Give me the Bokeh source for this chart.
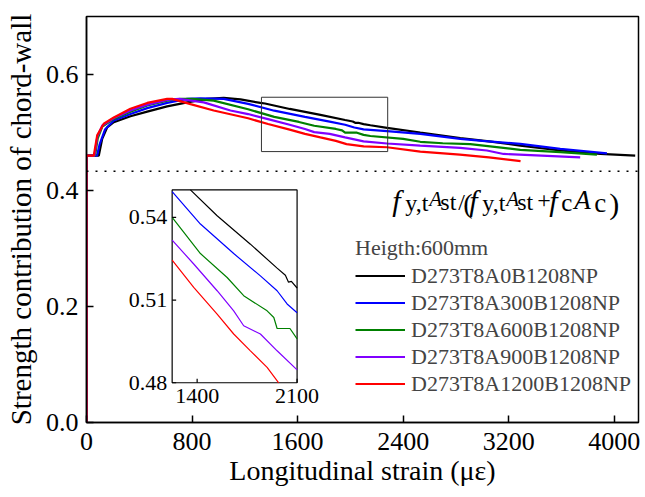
from bokeh.plotting import figure
from bokeh.models import Range1d, Label, Span, FixedTicker, PrintfTickFormatter, Legend, LegendItem
from bokeh.embed import file_html
from bokeh.resources import INLINE
from bokeh.core.properties import value

FONT = "Liberation Serif"

# ---------------- data ----------------
names = ["D273T8A0B1208NP", "D273T8A300B1208NP", "D273T8A600B1208NP",
         "D273T8A900B1208NP", "D273T8A1200B1208NP"]
colors = ["#000000", "#0000FF", "#008000", "#8000FF", "#FF0000"]

x_black = [0, 0, 93, 119, 157, 207, 333, 460, 611, 763, 914, 1040, 1167, 1318, 1353, 1540, 1773,
           1960, 2018, 2040, 2060, 2100, 2152, 2278, 2530, 2833, 3035, 3288, 3591, 3894, 4159]
y_black = [0, 0.46, 0.46, 0.489, 0.509, 0.5177, 0.528, 0.536, 0.545, 0.552, 0.558, 0.5598, 0.557,
           0.551, 0.55, 0.5406, 0.5303, 0.5216, 0.519, 0.5165, 0.5168, 0.5144, 0.5125, 0.508,
           0.500, 0.4905, 0.485, 0.4775, 0.469, 0.463, 0.460]

x_blue = [0, 0, 80, 100, 140, 207, 333, 460, 611, 763, 864, 1040, 1225, 1423, 1656, 1843, 1960,
          2030, 2100, 2278, 2530, 2833, 3000, 3288, 3591, 3945]
y_blue = [0, 0.46, 0.46, 0.48, 0.505, 0.5206, 0.532, 0.542, 0.551, 0.558, 0.559, 0.558, 0.5494,
          0.5376, 0.5269, 0.5188, 0.5134, 0.5086, 0.5054, 0.5025, 0.4977, 0.489, 0.4855, 0.4804,
          0.4718, 0.464]

x_green = [0, 0, 65, 85, 120, 207, 333, 460, 611, 712, 800, 964, 1225, 1423, 1610, 1726, 1890,
           1937, 1960, 2050, 2100, 2152, 2400, 2530, 2700, 2909, 3288, 3591, 3869]
y_green = [0, 0.46, 0.46, 0.49, 0.51, 0.5235, 0.536, 0.5465, 0.555, 0.558, 0.558, 0.555, 0.540,
           0.5269, 0.5182, 0.5116, 0.5061, 0.5037, 0.4997, 0.4997, 0.4959, 0.494, 0.489, 0.484,
           0.4815, 0.480, 0.470, 0.466, 0.462]

x_purple = [0, 0, 60, 82, 120, 207, 333, 460, 611, 700, 889, 1091, 1225, 1376, 1540, 1656, 1726,
            1843, 1960, 2100, 2278, 2530, 2833, 3035, 3161, 3450, 3742]
y_purple = [0, 0.46, 0.46, 0.493, 0.512, 0.525, 0.538, 0.548, 0.5563, 0.558, 0.552, 0.538, 0.5318,
            0.5231, 0.5134, 0.5061, 0.5007, 0.4977, 0.4916, 0.4847, 0.481, 0.4775, 0.4735, 0.469,
            0.463, 0.460, 0.457]

x_red = [0, 0, 55, 81, 131, 207, 333, 460, 611, 650, 788, 964, 1225, 1376, 1540, 1656, 1773, 1890,
         1971, 2101, 2278, 2530, 2830, 3050, 3290]
y_red = [0, 0.46, 0.46, 0.495, 0.515, 0.526, 0.541, 0.551, 0.558, 0.558, 0.549, 0.538, 0.5245,
         0.5146, 0.5049, 0.4977, 0.4916, 0.4856, 0.48, 0.476, 0.4746, 0.467, 0.462, 0.457, 0.4505]

series_x = [x_black, x_blue, x_green, x_purple, x_red]
series_y = [y_black, y_blue, y_green, y_purple, y_red]

x_ticks = [0, 800, 1600, 2400, 3200, 4000]
y_ticks = [0.0, 0.2, 0.4, 0.6]
ref_ratio = 0.433           # fy,tAst/(fy,tAst+fcAc)

inset_x_ticks = [1400, 2100]
inset_y_ticks = [0.48, 0.51, 0.54]
inset_xlim = (1225, 2100)
inset_ylim = (0.48, 0.55)
zoom_box = (1326, 2283, 0.4671, 0.5608)   # left, right, bottom, top

# ---------------- main figure ----------------
p = figure(width=645, height=497, output_backend="svg", toolbar_location=None,
           x_range=Range1d(0, 4184), y_range=Range1d(0, 0.70),
           min_border_left=86, min_border_right=7, min_border_top=16, min_border_bottom=75)
p.background_fill_color = "white"
p.border_fill_color = "white"
p.xgrid.visible = False
p.ygrid.visible = False
p.outline_line_color = "black"
p.outline_line_width = 1.5
p.outline_line_alpha = 1.0

for ax in (p.xaxis[0], p.yaxis[0]):
    ax.axis_line_width = 1.5
    ax.major_tick_in = 7
    ax.major_tick_out = 0
    ax.major_tick_line_width = 1.5
    ax.minor_tick_line_color = None
    ax.major_label_text_font = FONT
    ax.major_label_text_font_size = "26px"
    ax.major_label_text_color = "black"
    ax.axis_label_text_font = FONT
    ax.axis_label_text_font_style = "normal"
    ax.axis_label_text_color = "black"

p.xaxis.axis_label_text_font_size = "28px"
p.yaxis.axis_label_text_font_size = "29px"
p.xaxis.ticker = FixedTicker(ticks=x_ticks)
p.yaxis.ticker = FixedTicker(ticks=y_ticks)
p.xaxis.formatter = PrintfTickFormatter(format="%d")
p.yaxis.formatter = PrintfTickFormatter(format="%.1f")
p.xaxis.axis_label = "Longitudinal strain (με)"
p.yaxis.axis_label = "Strength contribution of chord-wall"
p.xaxis.major_label_standoff = 10
p.yaxis.major_label_standoff = 8
p.xaxis.axis_label_standoff = 2
p.yaxis.axis_label_standoff = 6

# reference dotted line
p.add_layout(Span(location=ref_ratio, dimension="width", line_color="black",
                  line_width=1.5, line_dash="2 7"))

# curves
renderers = []
for xs, ys, c in zip(series_x, series_y, colors):
    r = p.line(xs, ys, line_color=c, line_width=2.2)
    renderers.append(r)

# zoom box
p.quad(left=[zoom_box[0]], right=[zoom_box[1]], bottom=[zoom_box[2]], top=[zoom_box[3]],
       fill_color=None, line_color="#333333", line_width=1)

# legend
items = [LegendItem(label=n, renderers=[r]) for n, r in zip(names, renderers)]
leg = Legend(items=items, location=(269, 25), title="Heigth:600mm",
             title_text_font=FONT, title_text_font_size="22px", title_text_font_style="normal",
             title_standoff=1,
             label_text_font=FONT, label_text_font_size="22px",
             glyph_width=50, glyph_height=27, label_height=27, label_standoff=6,
             spacing=0, padding=0, margin=0,
             border_line_color=None, background_fill_alpha=0)
p.add_layout(leg)

# annotation formula fy,tAst/(fy,tAst+fcAc)
def px2x(px):
    return (px - 86) / 0.132

def py2y(py):
    return (421.7 - py) / 579.5

pieces = [
    (392, 200, "f", 30, "italic"),
    (405, 202, "y,t", 24, "normal"),
    (429, 198, "A", 21, "italic"),
    (440, 201, "st", 24, "normal"),
    (458, 201, "/", 24, "normal"),
    (463, 203, "(", 28, "normal"),
    (469, 200, "f", 30, "italic"),
    (482, 202, "y,t", 24, "normal"),
    (506, 198, "A", 21, "italic"),
    (517, 201, "st", 24, "normal"),
    (537, 200, "+", 24, "normal"),
    (549, 200, "f", 30, "italic"),
    (561, 202, "c", 25, "normal"),
    (574, 199, "A", 27, "italic"),
    (594, 202, "c", 27, "normal"),
    (609, 203, ")", 30, "normal"),
]
for px, py, t, fs, st in pieces:
    p.add_layout(Label(x=px2x(px), y=py2y(py), text=t, text_font=FONT,
                       text_font_size=f"{fs}px", text_font_style=st,
                       text_baseline="alphabetic", text_align="left", text_color="black"))

# ---------------- inset (sub-coordinates inside main frame) ----------------
sub = p.subplot(x_source=Range1d(*inset_xlim), y_source=Range1d(*inset_ylim),
                x_target=Range1d(px2x(171.7), px2x(296.7)),
                y_target=Range1d(py2y(382.0), py2y(189.3)))

sub.quad(left=[inset_xlim[0]], right=[inset_xlim[1]], bottom=[inset_ylim[0]], top=[inset_ylim[1]],
         fill_color="white", line_color="black", line_width=1.2)

for xs, ys, c in zip(series_x, series_y, colors):
    keep = [(x, y) for x, y in zip(xs, ys)
            if inset_xlim[0] <= x <= inset_xlim[1] and inset_ylim[0] <= y <= inset_ylim[1]]
    sub.line([k[0] for k in keep], [k[1] for k in keep], line_color=c, line_width=1.2)

# inset ticks (inward) and labels
xu = (inset_xlim[1] - inset_xlim[0]) / 125.0   # data per px
yu = (inset_ylim[1] - inset_ylim[0]) / 192.7
sub.segment(x0=[inset_xlim[0]] * len(inset_y_ticks), y0=inset_y_ticks,
            x1=[inset_xlim[0] + 4 * xu] * len(inset_y_ticks), y1=inset_y_ticks,
            line_color="black", line_width=1.2)
sub.segment(x0=inset_x_ticks, y0=[inset_ylim[0]] * len(inset_x_ticks),
            x1=inset_x_ticks, y1=[inset_ylim[0] + 4 * yu] * len(inset_x_ticks),
            line_color="black", line_width=1.2)
sub.text(x=[inset_xlim[0]] * len(inset_y_ticks), y=inset_y_ticks,
         text=[f"{v:.2f}" for v in inset_y_ticks], x_offset=-5,
         text_align="right", text_baseline="middle", text_font=value(FONT),
         text_font_size="22px", text_color="black")
sub.text(x=inset_x_ticks, y=[inset_ylim[0]] * len(inset_x_ticks),
         text=[str(v) for v in inset_x_ticks], y_offset=6,
         text_align="center", text_baseline="top", text_font=value(FONT),
         text_font_size="22px", text_color="black")

open("out.html", "w").write(file_html(p, INLINE))
